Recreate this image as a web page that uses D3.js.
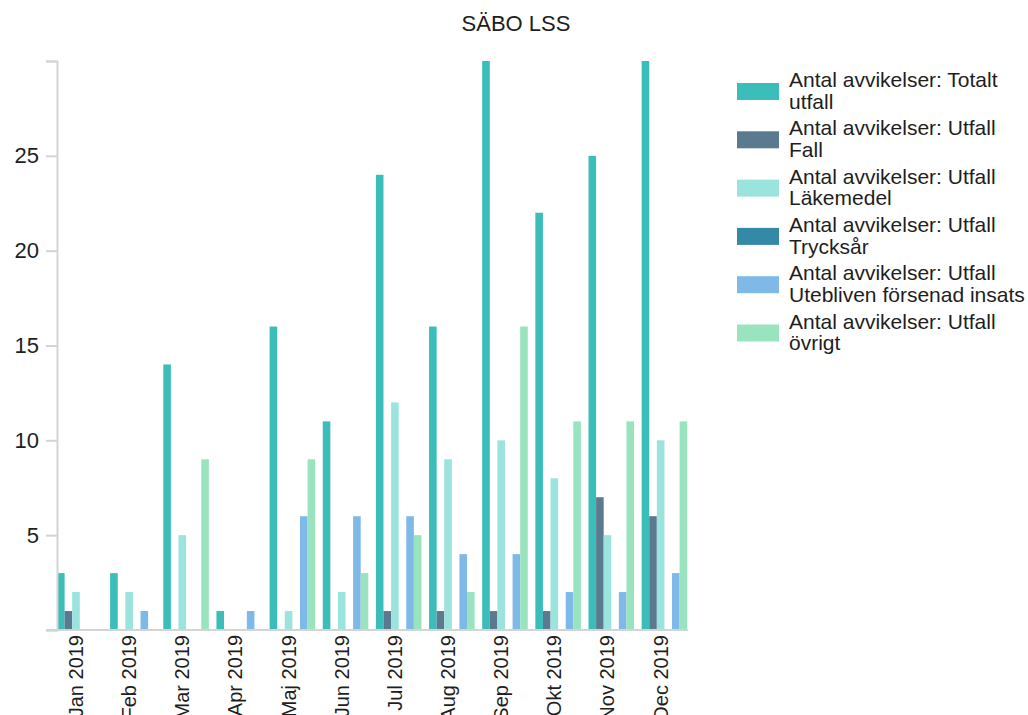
<!DOCTYPE html>
<html>
<head>
<meta charset="utf-8">
<script src="https://cdn.jsdelivr.net/npm/d3@7"></script>
<style>
  body { margin: 0; background: #fff; }
  text { font-family: "Liberation Sans", Arial, sans-serif; fill: #1e1e1e; }
</style>
</head>
<body>
<svg id="chart" width="1028" height="715"></svg>
<script>
const title = "SÄBO LSS";
const months = ["Jan 2019","Feb 2019","Mar 2019","Apr 2019","Maj 2019","Jun 2019","Jul 2019","Aug 2019","Sep 2019","Okt 2019","Nov 2019","Dec 2019"];
const seriesNames = [
  "Antal avvikelser: Totalt utfall",
  "Antal avvikelser: Utfall Fall",
  "Antal avvikelser: Utfall Läkemedel",
  "Antal avvikelser: Utfall Trycksår",
  "Antal avvikelser: Utfall Utebliven försenad insats",
  "Antal avvikelser: Utfall övrigt"
];
const seriesColors = ["#3bbdb9", "#5b7a90", "#9be3dd", "#3489a7", "#7fb9e8", "#9ae3bf"];
const totalt     = [3, 3, 14, 1, 16, 11, 24, 16, 31, 22, 25, 30];
const fall       = [1, 0, 0, 0, 0, 0, 1, 1, 1, 1, 7, 6];
const lakemedel  = [2, 2, 5, 0, 1, 2, 12, 9, 10, 8, 5, 10];
const trycksar   = [0, 0, 0, 0, 0, 0, 0, 0, 0, 0, 0, 0];
const utebliven  = [0, 1, 0, 1, 6, 6, 6, 4, 4, 2, 2, 3];
const ovrigt     = [0, 0, 9, 0, 9, 3, 5, 2, 16, 11, 11, 11];
const yTicks = [0, 5, 10, 15, 20, 25, 30];
const yMax = 30;

const series = [totalt, fall, lakemedel, trycksar, utebliven, ovrigt];

const svg = d3.select("#chart");
const plot = { left: 57, right: 688, top: 61, bottom: 630 };

const x = d3.scaleBand().domain(months).range([plot.left, plot.left + 12 * 53.15]).padding(0);
const slot = x.bandwidth() / 7;
const xs = d3.scaleBand().domain(d3.range(series.length)).range([0, slot * series.length]).padding(0);
const y = d3.scaleLinear().domain([0, yMax]).range([plot.bottom, plot.top]);

svg.append("defs").append("clipPath").attr("id", "clip")
  .append("rect").attr("x", plot.left - 2).attr("y", plot.top)
  .attr("width", 700).attr("height", plot.bottom - plot.top);

// title
svg.append("text").attr("x", 516).attr("y", 31).attr("text-anchor", "middle")
  .style("font-size", "22px").text(title);

// bars
const barsG = svg.append("g").attr("clip-path", "url(#clip)");
series.forEach((vals, si) => {
  barsG.selectAll(null).data(vals.map((v, i) => ({ m: months[i], v })))
    .enter().append("rect")
    .attr("x", d => x(d.m) + xs(si))
    .attr("width", xs.bandwidth())
    .attr("y", d => y(d.v))
    .attr("height", d => y(0) - y(d.v))
    .attr("fill", seriesColors[si]);
});

// y axis
const yAxis = d3.axisLeft(y).tickValues(yTicks).tickSize(11).tickPadding(7)
  .tickFormat(d => (d === 0 || d === yMax) ? "" : d);
const yg = svg.append("g").attr("transform", `translate(${plot.left},0)`).call(yAxis);
yg.select(".domain").attr("stroke", "#d4d4d4").attr("stroke-width", 2);
yg.selectAll(".tick line").attr("stroke", "#d4d4d4").attr("stroke-width", 2);
yg.selectAll(".tick text").style("font-size", "22px").style("font-family", "Liberation Sans, Arial, sans-serif").attr("fill", "#1e1e1e");

// x baseline
svg.append("line").attr("x1", plot.left - 11).attr("x2", plot.right)
  .attr("y1", y(0)).attr("y2", y(0)).attr("stroke", "#d4d4d4").attr("stroke-width", 2);

// x labels
const xg = svg.append("g").attr("transform", `translate(${-x.bandwidth() / 2 + slot * 2.5},${plot.bottom})`)
  .call(d3.axisBottom(x).tickSize(0).tickPadding(0));
xg.select(".domain").remove();
xg.selectAll(".tick text")
  .style("font-size", "20px").style("font-family", "Liberation Sans, Arial, sans-serif").attr("fill", "#1e1e1e")
  .attr("text-anchor", "end")
  .attr("transform", "rotate(-90)")
  .attr("x", -5).attr("y", 0).attr("dy", "0.35em");

// legend
const lg = svg.append("g");
seriesNames.forEach((name, i) => {
  const words = name.split(" ");
  const line1 = words.slice(0, 3).join(" ");
  const line2 = words.slice(3).join(" ");
  const top = 83 + i * 48.3;
  lg.append("rect").attr("x", 737).attr("y", top).attr("width", 42).attr("height", 17)
    .attr("fill", seriesColors[i]);
  const t = lg.append("text").attr("x", 789).attr("y", top + 4).style("font-size", "21px");
  t.append("tspan").attr("x", 789).attr("dy", 0).text(line1);
  t.append("tspan").attr("x", 789).attr("dy", 21.6).text(line2);
});
</script>
</body>
</html>
